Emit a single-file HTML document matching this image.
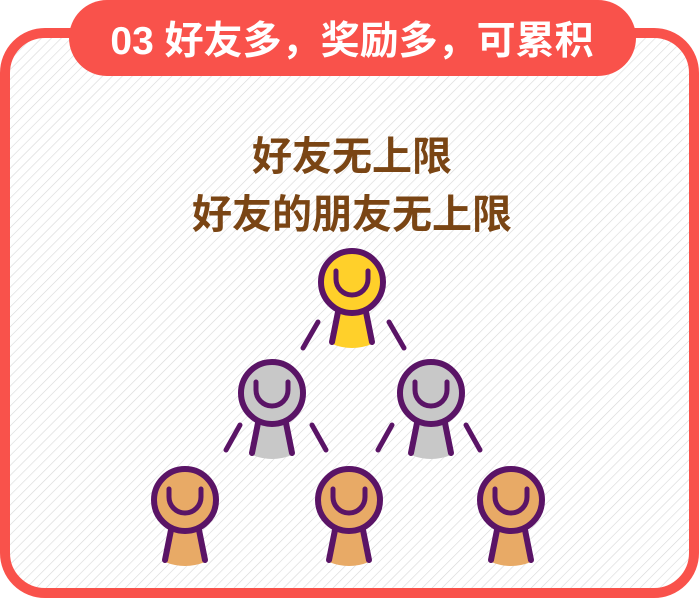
<!DOCTYPE html>
<html><head><meta charset="utf-8"><style>
html,body{margin:0;padding:0;background:#fff;}
svg{display:block;}
</style></head><body>
<svg width="699" height="598" viewBox="0 0 699 598">
<defs>
<pattern id="hatch" width="7" height="7" patternUnits="userSpaceOnUse" patternTransform="rotate(45)">
<rect width="7" height="7" fill="#fff"/>
<line x1="0" y1="0" x2="0" y2="7" stroke="#d8d8d8" stroke-width="1.2"/>
</pattern>
<g id="fig">
<path d="M-12,24 L-20,62 Q0,70 20,62 L12,24 Z" fill="inherit"/>
<line x1="-14" y1="30" x2="-20" y2="60" stroke="#5a1466" stroke-width="6" stroke-linecap="round"/>
<line x1="14" y1="30" x2="20" y2="60" stroke="#5a1466" stroke-width="6" stroke-linecap="round"/>
<circle cx="0" cy="0" r="31" stroke="#5a1466" stroke-width="6" fill="inherit"/>
<path d="M-16,-11 L-16,-3 A16,16 0 0 0 16,-3 L16,-11" fill="none" stroke="#5a1466" stroke-width="5" stroke-linecap="round"/>
</g>
</defs>
<rect x="5" y="33" width="689" height="560" rx="40" fill="url(#hatch)" stroke="#f9524b" stroke-width="10"/>
<rect x="69" y="0" width="567" height="76" rx="38" fill="#f9524b"/>
<text x="352" y="54" text-anchor="middle" font-family="'Liberation Sans','Noto Sans CJK SC',sans-serif" font-size="39" font-weight="bold" fill="#fff">03 好友多，奖励多，可累积</text>
<text x="352" y="170" text-anchor="middle" font-family="'Liberation Sans','Noto Sans CJK SC',sans-serif" font-size="40" font-weight="bold" fill="#7a4514">好友无上限</text>
<text x="352" y="228" text-anchor="middle" font-family="'Liberation Sans','Noto Sans CJK SC',sans-serif" font-size="40" font-weight="bold" fill="#7a4514">好友的朋友无上限</text>
<g stroke="#5a1466" stroke-width="5" stroke-linecap="round">
<line x1="318" y1="322" x2="303" y2="348"/><line x1="389" y1="322" x2="404" y2="348"/>
<line x1="240" y1="425" x2="226" y2="450"/><line x1="312" y1="425" x2="326" y2="450"/>
<line x1="392" y1="425" x2="378" y2="450"/><line x1="466" y1="425" x2="480" y2="450"/>
</g>
<use href="#fig" x="352" y="282" fill="#ffd02a"/>
<use href="#fig" x="272" y="393" fill="#c8c8c8"/>
<use href="#fig" x="431" y="393" fill="#c8c8c8"/>
<use href="#fig" x="185" y="500" fill="#e8aa66"/>
<use href="#fig" x="349" y="500" fill="#e8aa66"/>
<use href="#fig" x="511" y="500" fill="#e8aa66"/>
</svg>
</body></html>
